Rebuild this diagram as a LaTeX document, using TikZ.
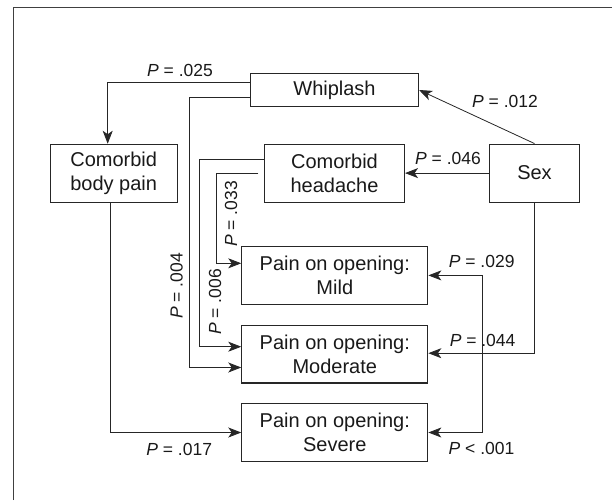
\documentclass[tikz,border=0pt]{standalone}
\usepackage{fontspec}
\setmainfont{Liberation Sans}
\usepackage{tikz}
\usetikzlibrary{arrows.meta}

\begin{document}
\begin{tikzpicture}[x=1pt,y=-1pt,
    box/.style={draw=black!85, line width=1.1pt, align=center, inner sep=0pt, text=black!90, font=\fontsize{20}{24}\selectfont},
    pval/.style={inner sep=0pt, text=black!90, font=\fontsize{17.5}{19}\selectfont},
    conn/.style={black!85, line width=0.8pt, -{Stealth[length=13pt,width=10pt,inset=3.5pt]}},
    both/.style={black!85, line width=0.8pt, {Stealth[length=13pt,width=10pt,inset=3.5pt]}-{Stealth[length=13pt,width=10pt,inset=3.5pt]}}]
    \useasboundingbox (0,0) rectangle (612,500);

    % frame
    \draw[black!75, line width=1pt] (13.5,500) -- (13.5,7.3) -- (612,7.3);

    % boxes
    \node[box, minimum width=168pt, minimum height=33.4pt] (whiplash) at (334.5,90) {Whiplash};
    \node[box, minimum width=127pt, minimum height=58pt] (bodypain) at (113.7,173.3) {Comorbid\\body pain};
    \node[box, minimum width=140pt, minimum height=58pt] (headache) at (334.5,173.1) {Comorbid\\headache};
    \node[box, minimum width=90pt, minimum height=58pt] (sex) at (534.5,173.1) {Sex};
    \node[box, minimum width=186pt, minimum height=57.6pt] (mild) at (334.8,275.4) {Pain on opening:\\Mild};
    \node[box, minimum width=186pt, minimum height=57.6pt] (moderate) at (334.8,354.2) {Pain on opening:\\Moderate};
    \node[box, minimum width=186pt, minimum height=57.6pt] (severe) at (334.8,432.5) {Pain on opening:\\Severe};

    % paths on the left
    \draw[conn] ([yshift=7.7pt]whiplash.west) -| ([xshift=-6pt]bodypain.north);
    \draw[conn] ([yshift=-7.7pt]whiplash.west) --++(-60.9,0) |- ([yshift=-13.3pt]moderate.west);
    \draw[conn] ([yshift=14pt]headache.west) --++(-64.3,0) |- ([yshift=7.5pt]moderate.west);
    \draw[conn] ([xshift=-5.5pt]headache.west) --++(-41.7,0) |- ([yshift=12.1pt]mild.west);
    \draw[conn] ([xshift=-3.7pt]bodypain.south) |- (severe.west);

    % paths from sex
    \draw[conn] (sex.north) -- (whiplash.east);
    \draw[conn] (sex.west) -- (headache.east);
    \draw[conn] (sex.south) |- ([yshift=1pt]moderate.east);
    \draw[both] (mild.east) --++(54,0) |- (severe.east);

    % p values
    \node[pval] (p025) at (180,70.5) {\textit{P} = .025};
    \node[pval] (p012) at (505,101) {\textit{P} = .012};
    \node[pval] (p046) at (448,158) {\textit{P} = .046};
    \node[pval, rotate=90] (p004) at (176.5,286) {\textit{P} = .004};
    \node[pval, rotate=90] (p006) at (215,302) {\textit{P} = .006};
    \node[pval, rotate=90] (p033) at (231,214) {\textit{P} = .033};
    \node[pval] (p029) at (481.7,261) {\textit{P} = .029};
    \node[pval] (p044) at (482.6,340) {\textit{P} = .044};
    \node[pval] (p001) at (481.5,448) {\textit{P} < .001};
    \node[pval] (p017) at (179.2,449.5) {\textit{P} = .017};
  \end{tikzpicture}
\end{document}
